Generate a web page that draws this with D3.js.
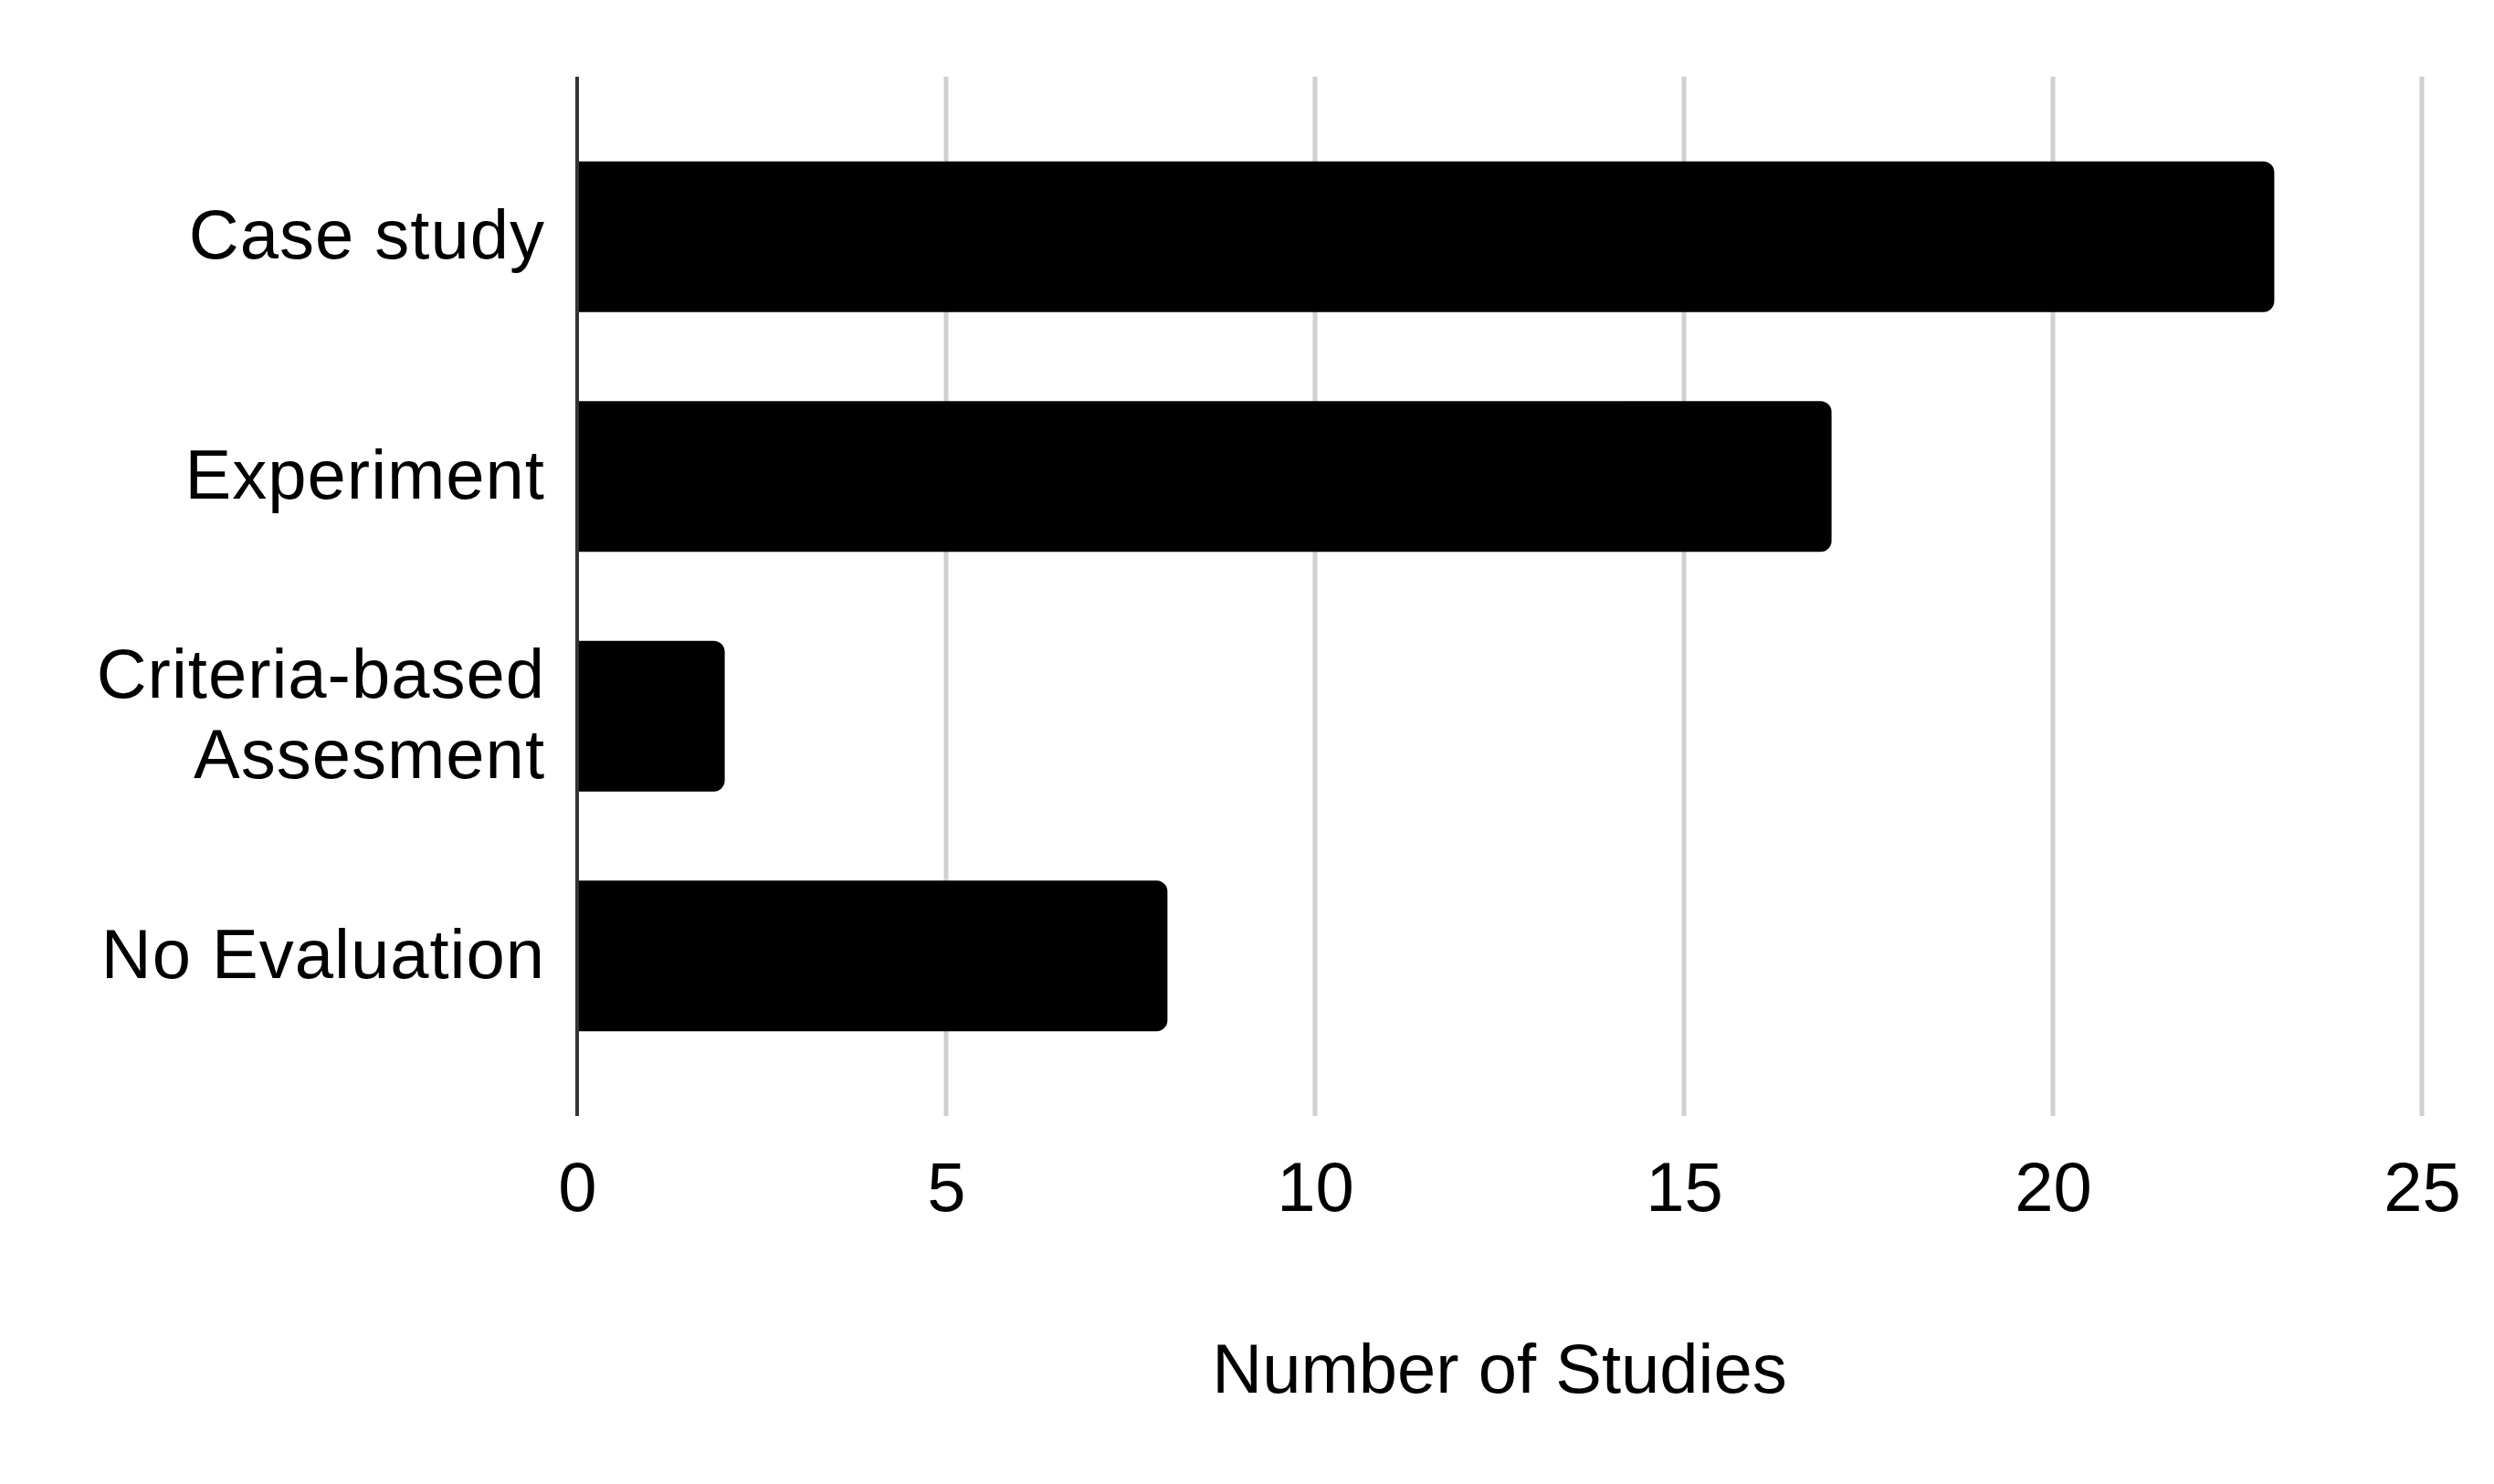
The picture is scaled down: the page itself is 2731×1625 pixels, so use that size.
<!DOCTYPE html>
<html>
<head>
<meta charset="utf-8">
<script src="https://cdn.jsdelivr.net/npm/d3@7"></script>
<style>
    html, body { margin: 0; padding: 0; background: #ffffff; }
    svg { display: block; }
</style>
</head>
<body>
<svg id="chart"></svg>
<script>
// Data
var categories = ["Case study", "Experiment", "Criteria-based\nAssesment", "No Evaluation"];
var studies = [23, 17, 2, 8];
var xTicks = [0, 5, 10, 15, 20, 25];
var xTitle = "Number of Studies";

var width = 2731, height = 1625;
var plotLeft = 632, plotRight = 2652, plotTop = 84, plotBottom = 1222;
var fontFamily = "Arial, 'Liberation Sans', sans-serif";

var svg = d3.select("#chart")
    .attr("width", width)
    .attr("height", height);

var x = d3.scaleLinear()
    .domain([0, 25])
    .range([plotLeft, plotRight]);

var y = d3.scaleBand()
    .domain(categories)
    .range([plotTop, plotBottom])
    .paddingInner(0.371)
    .paddingOuter(0.353);

/**
 * Bar shape with only the right corners rounded
 */
function barPath(x0, x1, y0, h, r) {
    var p = d3.path();
    p.moveTo(x0, y0);
    p.lineTo(x1 - r, y0);
    p.arcTo(x1, y0, x1, y0 + r, r);
    p.lineTo(x1, y0 + h - r);
    p.arcTo(x1, y0 + h, x1 - r, y0 + h, r);
    p.lineTo(x0, y0 + h);
    p.closePath();
    return p.toString();
}

// Vertical grid lines
svg.append("g")
    .attr("class", "grid")
    .selectAll("line")
    .data(xTicks.filter(function (d) { return d > 0; }))
    .enter()
    .append("line")
    .attr("x1", function (d) { return x(d); })
    .attr("x2", function (d) { return x(d); })
    .attr("y1", plotTop)
    .attr("y2", plotBottom)
    .style("stroke", "#d0d0d0")
    .style("stroke-width", 5);

// Bars
svg.append("g")
    .attr("class", "bars")
    .selectAll("path")
    .data(studies)
    .enter()
    .append("path")
    .attr("d", function (d, i) {
        return barPath(x(0), x(d), y(categories[i]), y.bandwidth(), 12);
    })
    .style("fill", "#000000");

// Zero axis line
svg.append("line")
    .attr("x1", x(0))
    .attr("x2", x(0))
    .attr("y1", plotTop)
    .attr("y2", plotBottom)
    .style("stroke", "#333333")
    .style("stroke-width", 4);

// X tick labels, drawn through d3.axisBottom
var xAxis = svg.append("g")
    .attr("transform", "translate(0," + plotBottom + ")")
    .call(d3.axisBottom(x).tickValues(xTicks).tickSize(0).tickPadding(50));

xAxis.select(".domain").remove();
xAxis.selectAll("text")
    .style("font-family", fontFamily)
    .style("font-size", "76px")
    .style("fill", "#000000");

// Category labels
var labels = svg.append("g")
    .attr("class", "labels")
    .selectAll("text")
    .data(categories)
    .enter()
    .append("text")
    .attr("text-anchor", "end")
    .attr("x", 597)
    .attr("y", function (d) { return y(d) + y.bandwidth() / 2; })
    .style("font-family", fontFamily)
    .style("font-size", "76px")
    .style("letter-spacing", "1px")
    .style("fill", "#000000");

labels.each(function (d) {
    var lines = d.split("\n");
    var t = d3.select(this);
    var lineH = 88;
    var start = 24 - (lines.length - 1) * lineH / 2;
    lines.forEach(function (line, k) {
        t.append("tspan")
            .attr("x", 597)
            .attr("dy", k === 0 ? start : lineH)
            .text(line);
    });
});

// Axis title
svg.append("text")
    .attr("x", (plotLeft + plotRight) / 2)
    .attr("y", 1525)
    .attr("text-anchor", "middle")
    .style("font-family", fontFamily)
    .style("font-size", "76px")
    .style("fill", "#000000")
    .text(xTitle);
</script>
</body>
</html>
